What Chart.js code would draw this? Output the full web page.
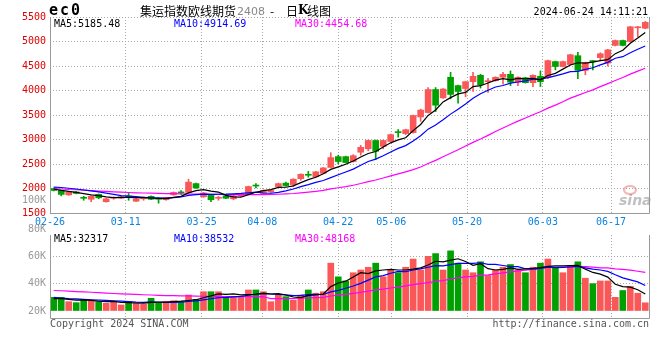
<!DOCTYPE html>
<html>
<head>
<meta charset="utf-8">
<script src="https://cdn.jsdelivr.net/npm/chart.js@4.4.1/dist/chart.umd.min.js"></script>
<style>
body { margin: 0; background: #fff; }
#wrap { position: relative; width: 660px; height: 360px; background: #fff; }
canvas { position: absolute; left: 0; }
</style>
</head>
<body>
<div id="wrap">
	<canvas id="kline" width="660" height="230" style="top:0"></canvas>
	<canvas id="vol" width="660" height="138" style="top:222px"></canvas>
</div>
<script>
// Trading days 2024-02-26 .. 2024-06-24
const dates = [
	'02-26','02-27','02-28','02-29','03-01','03-04','03-05','03-06','03-07','03-08',
	'03-11','03-12','03-13','03-14','03-15','03-18','03-19','03-20','03-21','03-22',
	'03-25','03-26','03-27','03-28','03-29','04-01','04-02','04-03','04-08','04-09',
	'04-10','04-11','04-12','04-15','04-16','04-17','04-18','04-19','04-22','04-23',
	'04-24','04-25','04-26','04-29','04-30','05-06','05-07','05-08','05-09','05-10',
	'05-13','05-14','05-15','05-16','05-17','05-20','05-21','05-22','05-23','05-24',
	'05-27','05-28','05-29','05-30','05-31','06-03','06-04','06-05','06-06','06-07',
	'06-11','06-12','06-13','06-14','06-17','06-18','06-19','06-20','06-21','06-24'
];
const tickDates = ['02-26','03-11','03-25','04-08','04-22','05-06','05-20','06-03','06-17'];

const opens = [
	2000,1960,1870,1930,1810,1780,1880,1730,1800,1800,
	1840,1740,1790,1840,1790,1770,1870,1920,1920,2100,
	1830,1860,1800,1850,1790,1850,1900,2060,1900,1930,
	2040,2110,2080,2200,2280,2240,2310,2430,2650,2650,
	2550,2740,2810,2980,2860,2960,3150,3120,3140,3460,
	3550,4020,3850,4270,4100,4040,4180,4310,4180,4200,
	4270,4330,4170,4260,4160,4290,4270,4590,4490,4530,
	4710,4410,4600,4670,4560,4920,5020,5000,5280,5270
];
const highs = [
	2010,1970,1940,1940,1840,1850,1890,1800,1830,1840,
	1900,1800,1830,1850,1810,1820,1930,1960,2190,2110,
	1920,1870,1840,1860,1860,1890,2050,2100,1970,1980,
	2110,2130,2200,2300,2350,2350,2430,2730,2680,2660,
	2690,2880,2990,2990,2990,3110,3200,3210,3500,3620,
	4060,4060,4040,4370,4110,4190,4370,4330,4250,4280,
	4370,4400,4280,4270,4320,4400,4620,4600,4600,4740,
	4780,4580,4610,4770,4840,5030,5030,5310,5310,5410
];
const lows = [
	1950,1850,1860,1890,1760,1730,1790,1720,1780,1790,
	1760,1730,1760,1770,1700,1760,1860,1880,1910,2000,
	1820,1730,1760,1790,1770,1840,1890,2010,1890,1920,
	2030,2050,2040,2170,2230,2230,2300,2420,2500,2520,
	2540,2680,2770,2590,2810,2950,3050,3100,3130,3370,
	3540,3570,3840,3830,3740,3870,3980,4050,3960,4190,
	4130,4100,4100,4150,4080,4080,4240,4420,4480,4520,
	4240,4320,4420,4620,4500,4910,4910,4990,5100,5260
];
const closes = [
	1960,1880,1930,1900,1800,1840,1810,1790,1820,1830,
	1830,1790,1800,1780,1780,1810,1920,1910,2130,2010,
	1910,1770,1810,1800,1850,1880,2040,2050,1960,1960,
	2100,2060,2190,2290,2270,2340,2420,2630,2550,2530,
	2670,2840,2980,2760,2980,3100,3140,3200,3490,3600,
	4020,3700,4030,3920,3980,4180,4290,4120,4200,4270,
	4330,4170,4270,4160,4310,4180,4610,4490,4590,4730,
	4410,4570,4590,4750,4830,5020,4920,5300,5290,5390
];
const volumes = [
	30000,30000,26800,26100,28000,28000,26800,25600,26800,24400,
	26800,25600,25100,29300,25600,26800,27500,26800,31700,28500,
	34100,34100,34100,30000,30000,30500,35400,35400,34100,26800,
	31700,30500,28000,31700,35400,33000,34100,55000,45000,42000,
	48000,50000,52000,55000,45000,50000,48000,52000,58000,50000,
	60000,62000,50000,64000,55000,50000,48000,56000,46000,50000,
	52000,54000,50000,48000,52000,55000,58000,52000,48000,53000,
	56000,44000,40000,42000,42000,30000,35000,38000,33000,26000
];

// moving average values before a full window exists
const priceMa5Head = [1990,1960,1940,1920];
const priceMa10Head = [2030,2020,2005,1990,1970,1950,1930,1905,1880];
const priceMa30Head = [
	2000,1990,1980,1975,1965,1955,1948,1940,1932,1925,
	1918,1912,1908,1904,1900,1897,1894,1890,1888,1886,
	1884,1882,1880,1878,1876,1875,1874,1873,1873
];
const volMa5Head = [29000,29000,28500,28000];
const volMa10Head = [30000,29500,29000,28800,28500,28200,28000,27800,27500];
const volMa30Head = [
	35000,34800,34500,34200,34000,33700,33400,33100,32800,32500,
	32300,32100,31900,31700,31500,31300,31200,31100,31000,30900,
	30800,30700,30700,30600,30600,30500,30500,30500,30400
];

const priceTicks = [1500,2000,2500,3000,3500,4000,4500,5000,5500];
const volTicks = [20000,40000,60000,80000];
const priceLegend = ['MA5:5185.48','MA10:4914.69','MA30:4454.68'];
const volLegend = ['MA5:32317','MA10:38532','MA30:48168'];

const RED = '#fa5858';
const GREEN = '#00a000';
const GRID = '#a8a8a8';
const FRAME = '#999';
const MONO = 'DejaVu Sans Mono, Liberation Mono, monospace';
const MA_COLORS = ['#000000', '#0000ff', '#ff00ff'];

function movingAvg(vals, n, head) {
	return vals.map(function (v, i) {
		if (i < n - 1) return head[i];
		let s = 0;
		for (let k = i - n + 1; k <= i; k++) s += vals[k];
		return s / n;
	});
}

const n = dates.length;
const idx = dates.map((d, i) => i);
const candleColors = idx.map(i => (closes[i] >= opens[i] ? RED : GREEN));
const tickIdx = tickDates.map(d => dates.indexOf(d));

// date grid lines are spread over n-1 steps, candles sit in n slots
function xTicks(scale) {
	scale.ticks = tickIdx.map(i => ({ value: -0.5 + i * n / (n - 1) }));
}

function maLine(values, color) {
	return {
		type: 'line',
		data: values.map((v, i) => ({ x: i, y: v })),
		borderColor: color,
		borderWidth: 1.2,
		pointRadius: 0,
		tension: 0,
		order: 0,
		clip: 0,
	};
}

// Frame: solid left / bottom / right lines
const framePlugin = {
	id: 'frame',
	afterDatasetsDraw(chart) {
		const { ctx, chartArea: a } = chart;
		ctx.save();
		ctx.strokeStyle = FRAME;
		ctx.lineWidth = 1;
		ctx.beginPath();
		ctx.moveTo(Math.round(a.left) + 0.5, a.top);
		ctx.lineTo(Math.round(a.left) + 0.5, Math.round(a.bottom) + 0.5);
		ctx.lineTo(Math.round(a.right) + 0.5, Math.round(a.bottom) + 0.5);
		ctx.lineTo(Math.round(a.right) + 0.5, a.top);
		ctx.stroke();
		ctx.restore();
	},
};

function drawLegend(ctx, texts, y) {
	const xs = [54, 174, 295];
	ctx.font = '10px ' + MONO;
	ctx.textBaseline = 'middle';
	ctx.textAlign = 'left';
	texts.forEach(function (t, k) {
		ctx.fillStyle = MA_COLORS[k];
		ctx.fillText(t, xs[k], y);
	});
}

const headerPlugin = {
	id: 'header',
	afterDraw(chart) {
		const ctx = chart.ctx;
		ctx.save();
		// contract code
		ctx.font = 'bold 15px ' + MONO;
		ctx.fillStyle = '#000';
		ctx.textBaseline = 'middle';
		['e', 'c', '0'].forEach(function (ch, k) {
			ctx.fillText(ch, 49 + k * 11, 11);
		});
		// title
		ctx.font = '12px "Noto Sans CJK SC"';
		ctx.fillText('集运指数欧线期货', 140, 11);
		ctx.font = '11px "DejaVu Sans"';
		ctx.fillStyle = '#888';
		ctx.fillText('2408', 237, 12);
		ctx.fillStyle = '#000';
		ctx.font = '12px "Noto Sans CJK SC"';
		ctx.fillText('-', 270, 11);
		ctx.fillText('日', 286, 11);
		ctx.font = 'bold 12px "DejaVu Serif"';
		ctx.fillText('K', 298, 11);
		ctx.font = '12px "Noto Sans CJK SC"';
		ctx.fillText('线图', 307, 11);
		// timestamp
		ctx.font = '10px ' + MONO;
		ctx.textAlign = 'right';
		ctx.fillText('2024-06-24 14:11:21', 648, 12);
		ctx.fillStyle = '#999';
		ctx.fillText('100K', 46, 200);
		drawLegend(ctx, priceLegend, 24);
		// sina watermark
		ctx.textAlign = 'left';
		ctx.strokeStyle = 'rgba(235,120,120,0.55)';
		ctx.lineWidth = 2;
		ctx.beginPath();
		ctx.ellipse(630, 190, 6, 4, 0, 0, Math.PI * 2);
		ctx.stroke();
		ctx.font = 'italic bold 14px "DejaVu Sans"';
		ctx.fillStyle = 'rgba(150,150,150,0.6)';
		ctx.fillText('sina', 619, 201);
		ctx.restore();
	},
};

const footerPlugin = {
	id: 'footer',
	afterDraw(chart) {
		const ctx = chart.ctx;
		ctx.save();
		drawLegend(ctx, volLegend, 17);
		ctx.font = '10px ' + MONO;
		ctx.fillStyle = '#555';
		ctx.textBaseline = 'middle';
		ctx.textAlign = 'left';
		ctx.fillText('Copyright 2024 SINA.COM', 50, 102);
		ctx.textAlign = 'right';
		ctx.fillText('http://finance.sina.com.cn', 649, 102);
		ctx.restore();
	},
};

const font10 = { family: MONO, size: 10 };

function xScale(showLabels) {
	return {
		type: 'linear',
		offset: false,
		min: -0.5,
		max: n - 0.5,
		afterBuildTicks: xTicks,
		afterFit: function (s) { s.height = showLabels ? 17 : 0; },
		ticks: {
			display: showLabels,
			autoSkip: false,
			maxRotation: 0,
			padding: 3,
			color: '#0a84e0',
			font: font10,
			callback: (v, k) => tickDates[k],
		},
		grid: { color: GRID, drawTicks: false, offset: false },
		border: { display: false, dash: [1, 2] },
	};
}

// Price chart
new Chart(document.getElementById('kline'), {
	type: 'bar',
	data: {
		datasets: [
			maLine(movingAvg(closes, 5, priceMa5Head), MA_COLORS[0]),
			maLine(movingAvg(closes, 10, priceMa10Head), MA_COLORS[1]),
			maLine(movingAvg(closes, 30, priceMa30Head), MA_COLORS[2]),
			{
				data: idx.map(i => ({ x: i, y: [opens[i], closes[i]] })),
				backgroundColor: candleColors,
				barThickness: 6,
				minBarLength: 1,
				grouped: false,
				order: 1,
				clip: 0,
			},
			{
				data: idx.map(i => ({ x: i, y: [lows[i], highs[i]] })),
				backgroundColor: candleColors,
				barThickness: 1,
				grouped: false,
				order: 2,
				clip: 0,
			},
		],
	},
	options: {
		responsive: false,
		animation: false,
		events: [],
		layout: { padding: { left: 0, right: 11, top: 17, bottom: 0 } },
		plugins: { legend: { display: false }, tooltip: { enabled: false } },
		scales: {
			x: xScale(true),
			y: {
				min: 1500,
				max: 5500,
				afterBuildTicks: function (s) { s.ticks = priceTicks.map(v => ({ value: v })); },
				afterFit: function (s) { s.width = 50; },
				ticks: { color: '#e00000', font: font10, padding: 4, callback: v => String(v) },
				grid: { color: GRID, drawTicks: false },
				border: { display: false, dash: [1, 2] },
			},
		},
	},
	plugins: [framePlugin, headerPlugin],
});

// Volume chart
new Chart(document.getElementById('vol'), {
	type: 'bar',
	data: {
		datasets: [
			maLine(movingAvg(volumes, 5, volMa5Head), MA_COLORS[0]),
			maLine(movingAvg(volumes, 10, volMa10Head), MA_COLORS[1]),
			maLine(movingAvg(volumes, 30, volMa30Head), MA_COLORS[2]),
			{
				data: idx.map(i => ({ x: i, y: volumes[i] })),
				backgroundColor: candleColors,
				barThickness: 6,
				base: 20000,
				grouped: false,
				order: 1,
				clip: 0,
			},
		],
	},
	options: {
		responsive: false,
		animation: false,
		events: [],
		layout: { padding: { left: 0, right: 11, top: 13, bottom: 42 } },
		plugins: { legend: { display: false }, tooltip: { enabled: false } },
		scales: {
			x: xScale(false),
			y: {
				min: 14880,
				max: 75600,
				afterBuildTicks: function (s) { s.ticks = volTicks.map(v => ({ value: v })); },
				afterFit: function (s) { s.width = 50; },
				ticks: {
					color: '#999',
					font: font10,
					padding: 4,
					callback: v => v / 1000 + 'K',
				},
				grid: {
					color: ctx => (ctx.tick && (ctx.tick.value === 40000 || ctx.tick.value === 60000) ? GRID : 'transparent'),
					drawTicks: false,
				},
				border: { display: false, dash: [1, 2] },
			},
		},
	},
	plugins: [framePlugin, footerPlugin],
});
</script>
</body>
</html>
